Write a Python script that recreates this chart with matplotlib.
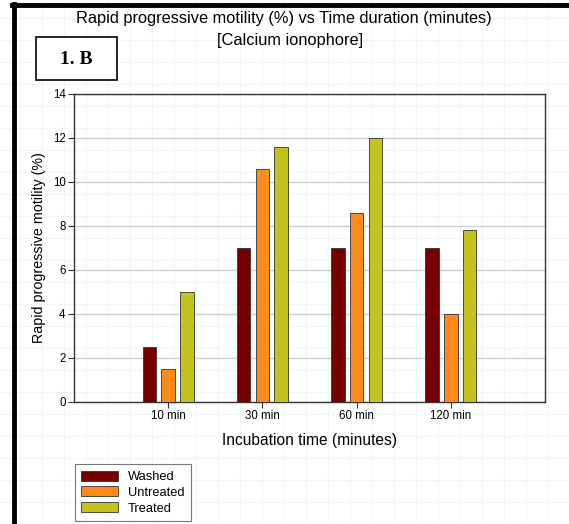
import matplotlib
matplotlib.use('Agg')
import matplotlib.pyplot as plt
from matplotlib.lines import Line2D
from matplotlib.patches import Rectangle
import numpy as np

plt.rcParams['font.family'] = ['Liberation Sans', 'DejaVu Sans']

categories = ['10 min', '30 min', '60 min', '120 min']
washed = [2.5, 7, 7, 7]
untreated = [1.5, 10.6, 8.6, 4]
treated = [5, 11.6, 12, 7.8]
series_names = ['Washed', 'Untreated', 'Treated']
colors = ['#760000', '#ff8a1c', '#c4c21c']

W, H = 569, 524
fig = plt.figure(figsize=(W / 100, H / 100), dpi=100)

# faint graph-paper background
for px in np.arange(20, W, 22):
    fig.add_artist(Line2D([px / W, px / W], [0, 1], color='#eef7f8', lw=0.8, zorder=0))
for py in np.arange(18, H, 22):
    fig.add_artist(Line2D([0, 1], [1 - py / H, 1 - py / H], color='#eef7f8', lw=0.8, zorder=0))

# thick frame (top + left)
fig.add_artist(Line2D([12 / W, 1], [1 - 5 / H, 1 - 5 / H], color='black', lw=3.5))
fig.add_artist(Line2D([13.5 / W, 13.5 / W], [0, 1 - 4 / H], color='black', lw=3.5))

ax = fig.add_axes([74 / W, 1 - 402 / H, 471 / W, 308 / H])
ax.patch.set_alpha(0)

x = np.arange(len(categories))
width = 0.145
step = 0.2
for i, (vals, name, c) in enumerate(zip([washed, untreated, treated], series_names, colors)):
    ax.bar(x + (i - 1) * step, vals, width, color=c, edgecolor='#333333', linewidth=0.6,
           label=name, zorder=3)

ax.set_xlim(-1, 4)
ax.set_ylim(0, 14)
ax.set_yticks(range(0, 15, 2))
ax.set_xticks(x)
ax.set_xticklabels(categories)
ax.yaxis.grid(True, color='#d0d0d0', lw=1, zorder=0)
ax.tick_params(axis='both', labelsize=8.3, length=4, width=0.8, color='#333333', pad=2)
for s in ax.spines.values():
    s.set_color('#333333')
    s.set_linewidth(1)

ax.set_ylabel('Rapid progressive motility (%)', fontsize=10.3, labelpad=5)
ax.set_xlabel('Incubation time (minutes)', fontsize=11.2, labelpad=8)

fig.text(284 / W, 1 - 19 / H, 'Rapid progressive motility (%) vs Time duration (minutes)',
         ha='center', va='center', fontsize=11.8)
fig.text(290 / W, 1 - 40 / H, '[Calcium ionophore]', ha='center', va='center', fontsize=11.8)

# panel label box
fig.add_artist(Rectangle((36 / W, 1 - 80 / H), 81 / W, 43 / H, facecolor='white',
                         edgecolor='black', lw=1.2))
fig.text(76 / W, 1 - 60 / H, '1. B', ha='center', va='center', fontsize=14,
         fontweight='bold', family='Liberation Serif')

leg = fig.legend(loc='lower left', bbox_to_anchor=(75 / W, 1 - 521 / H), fontsize=9.3,
                 frameon=True, fancybox=False, edgecolor='#555555', handlelength=2.8,
                 handleheight=0.8, borderpad=0.5, labelspacing=0.25, borderaxespad=0)
leg.get_frame().set_linewidth(0.8)

fig.savefig('out.png', dpi=100)
